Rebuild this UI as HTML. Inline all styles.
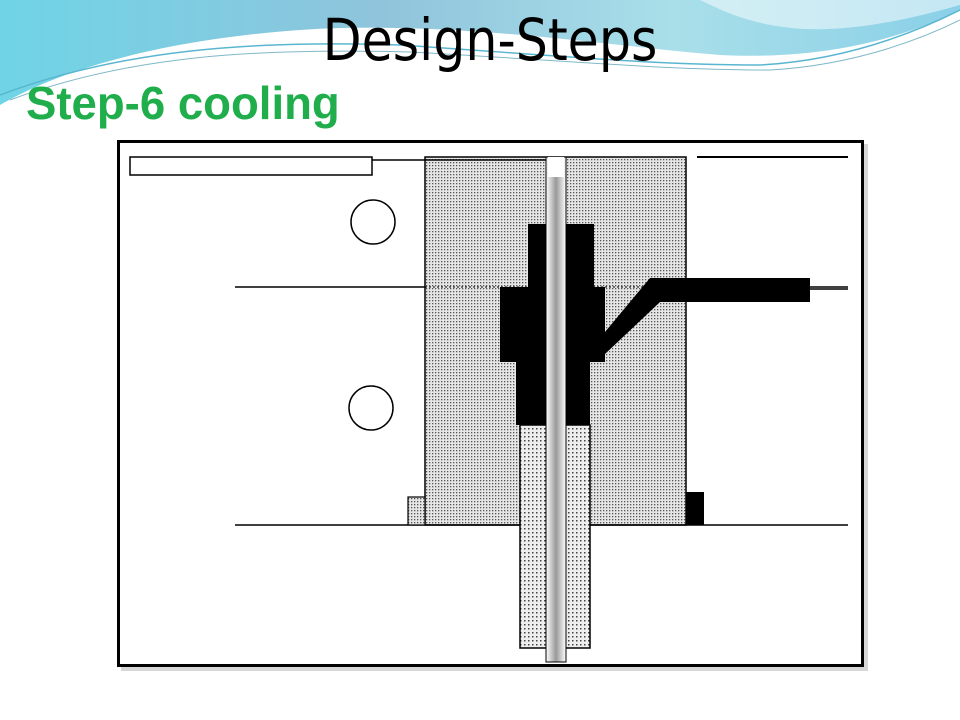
<!DOCTYPE html>
<html><head><style>
body{margin:0;width:960px;height:720px;overflow:hidden;background:#fff;font-family:"Liberation Sans",sans-serif}
</style></head><body>
<svg width="960" height="720" style="position:absolute;left:0;top:0">
<defs>
<pattern id="dots" width="3" height="3" patternUnits="userSpaceOnUse"><rect width="3" height="3" fill="#e6e6e6"/><rect width="1.3" height="1.3" fill="#555"/></pattern>
<pattern id="dots2" width="4" height="4" patternUnits="userSpaceOnUse"><rect width="4" height="4" fill="#eee"/><rect width="1.5" height="1.5" fill="#444"/></pattern>
<linearGradient id="g1" x1="0" y1="0" x2="1" y2="0"><stop offset="0" stop-color="#6fd4e6"/><stop offset="0.4" stop-color="#8fc4dc"/><stop offset="0.7" stop-color="#a9dfe9"/><stop offset="1" stop-color="#8ad0e8"/></linearGradient>
<linearGradient id="pin" x1="0" y1="0" x2="1" y2="0"><stop offset="0" stop-color="#fff"/><stop offset="0.5" stop-color="#999"/><stop offset="1" stop-color="#fff"/></linearGradient>
</defs>
<path d="M0,0 H960 V10 C900,40 820,60 720,55 C600,45 450,20 300,30 C160,40 60,70 0,105 Z" fill="url(#g1)"/>
<path d="M230,0 H700 C760,30 820,45 960,5 V0 Z" fill="#fff" opacity="0.5"/>
<path d="M0,95 C120,50 250,40 400,45 C550,55 650,65 760,65 C850,60 920,30 960,10" fill="none" stroke="#5ab6d0" stroke-width="1.5"/>
<path d="M10,100 C130,55 260,48 410,52 C560,60 660,70 770,70 C860,65 930,35 960,20" fill="none" stroke="#7fb8c8" stroke-width="1"/>
<rect x="121" y="144" width="747" height="527" fill="#bbb" opacity="0.6"/>
<rect x="118.5" y="141.5" width="744" height="524" fill="#fff" stroke="#000" stroke-width="3"/>
<rect x="425" y="157" width="261" height="368" fill="url(#dots)" stroke="#000" stroke-width="1.5"/>
<rect x="130" y="157" width="242" height="18" fill="#fff" stroke="#000" stroke-width="1.5"/>
<line x1="372" y1="160" x2="548" y2="160" stroke="#000" stroke-width="1.5"/>
<line x1="697" y1="157" x2="848" y2="157" stroke="#000" stroke-width="2"/>
<line x1="235" y1="287" x2="425" y2="287" stroke="#000" stroke-width="1.5"/>
<line x1="425" y1="287" x2="686" y2="287" stroke="#000" stroke-width="1" stroke-dasharray="2,2"/>
<line x1="686" y1="287" x2="848" y2="287" stroke="#000" stroke-width="1.5"/>
<line x1="235" y1="525" x2="520" y2="525" stroke="#000" stroke-width="1.5"/>
<line x1="590" y1="525" x2="848" y2="525" stroke="#000" stroke-width="1.5"/>
<rect x="408" y="497" width="17" height="28" fill="url(#dots)" stroke="#000" stroke-width="1.2"/>
<rect x="686" y="492" width="18" height="33" fill="#000"/>
<circle cx="373" cy="222" r="22" fill="#fff" stroke="#000" stroke-width="1.5"/>
<circle cx="371" cy="408" r="22" fill="#fff" stroke="#000" stroke-width="1.5"/>
<rect x="520" y="425" width="70" height="223" fill="url(#dots2)" stroke="#000" stroke-width="1.5"/>
<path d="M528,224 H594 V287 H605 V362 H590 V425 H516 V362 H500 V287 H528 Z" fill="#000"/>
<path d="M605,332 L650,278 H810 V302 H660 L605,354 Z" fill="#000"/>
<line x1="810" y1="289" x2="848" y2="289" stroke="#000" stroke-width="1.5"/>
<rect x="546" y="157" width="20" height="505" fill="url(#pin)" stroke="#000" stroke-width="1"/>
<rect x="548" y="157" width="16" height="20" fill="#fff"/>
</svg>
<div style="position:absolute;left:0;width:980px;top:6px;text-align:center;font-size:58px;color:#000;font-family:'DejaVu Sans Condensed','Liberation Sans',sans-serif;transform:scaleX(0.97);transform-origin:490px 0">Design-Steps</div>
<div style="position:absolute;left:26px;top:76px;font-size:46px;font-weight:bold;color:#1fae4b;font-family:'Liberation Sans',sans-serif;transform:scaleX(0.99);transform-origin:0 0;white-space:nowrap">Step-6 cooling</div>
</body></html>
